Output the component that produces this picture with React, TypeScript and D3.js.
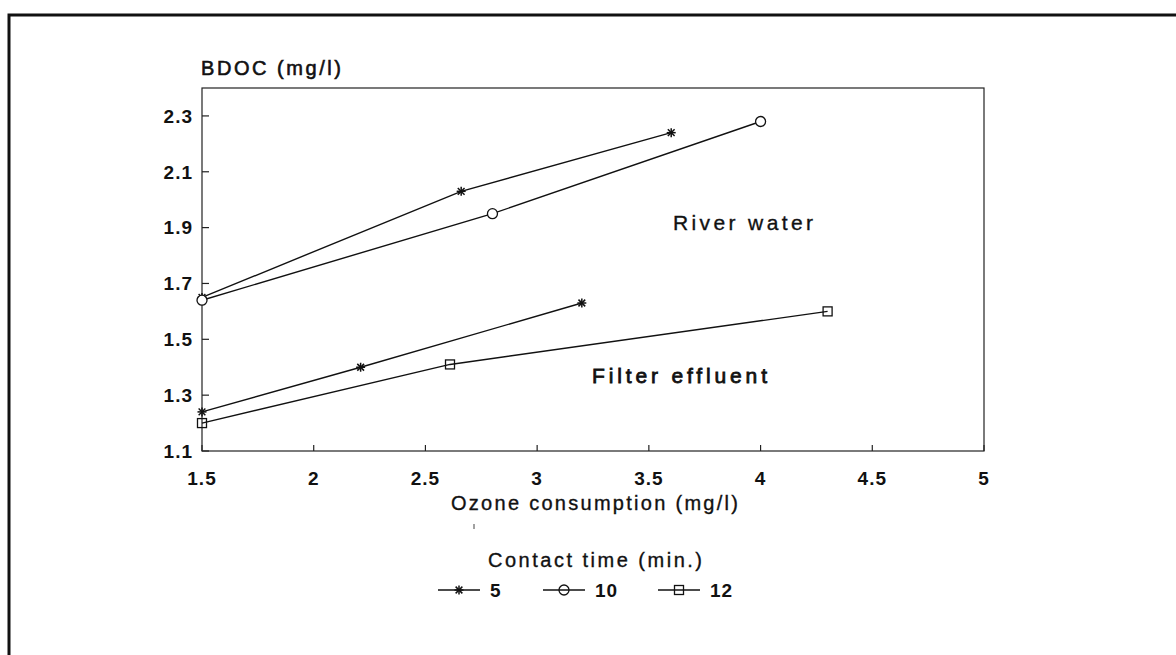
import React from "react";
import * as d3 from "d3";

const W = 1176;
const H = 655;

// Data
const river5X = [1.5, 2.66, 3.6];
const river5Y = [1.65, 2.03, 2.24];
const river10X = [1.5, 2.8, 4.0];
const river10Y = [1.64, 1.95, 2.28];
const filter5X = [1.5, 2.21, 3.2];
const filter5Y = [1.24, 1.4, 1.63];
const filter12X = [1.5, 2.61, 4.3];
const filter12Y = [1.2, 1.41, 1.6];

const xTicks = [1.5, 2, 2.5, 3, 3.5, 4, 4.5, 5];
const yTicks = [1.1, 1.3, 1.5, 1.7, 1.9, 2.1, 2.3];
const legendLabels = ["5", "10", "12"];
const legendMarkers = ["star", "circle", "square"];

const FONT = "'Liberation Sans', Arial, sans-serif";

const x = d3.scaleLinear().domain([1.5, 5]).range([202, 984]);
const y = d3.scaleLinear().domain([1.1, 2.4]).range([451, 88]);

function Marker({ type, cx, cy }: { type: string; cx: number; cy: number }) {
  if (type === "circle") {
    return <circle cx={cx} cy={cy} r={5} fill="white" stroke="#111" strokeWidth={1.3} />;
  }
  if (type === "square") {
    return <rect x={cx - 4.5} y={cy - 4.5} width={9} height={9} fill="none" stroke="#111" strokeWidth={1.3} />;
  }
  const s = 4.5;
  return (
    <g stroke="#111" strokeWidth={1.5}>
      <line x1={cx - s} y1={cy} x2={cx + s} y2={cy} />
      <line x1={cx} y1={cy - s} x2={cx} y2={cy + s} />
      <line x1={cx - s * 0.75} y1={cy - s * 0.75} x2={cx + s * 0.75} y2={cy + s * 0.75} />
      <line x1={cx - s * 0.75} y1={cy + s * 0.75} x2={cx + s * 0.75} y2={cy - s * 0.75} />
    </g>
  );
}

function Series({ xs, ys, marker }: { xs: number[]; ys: number[]; marker: string }) {
  const pts: [number, number][] = xs.map((v, i) => [x(v), y(ys[i])]);
  const line = d3.line()(pts) || "";
  return (
    <g>
      <path d={line} fill="none" stroke="#111" strokeWidth={1.4} />
      {pts.map((p, i) => (
        <Marker key={i} type={marker} cx={p[0]} cy={p[1]} />
      ))}
    </g>
  );
}

const textStyle = { fontFamily: FONT, fill: "#111", stroke: "#111", strokeWidth: 0.35 } as const;

export default function App() {
  const legendX = [438, 543, 658];
  const legendY = 590;
  return (
    <svg width={W} height={H} style={{ position: "absolute", left: 0, top: 0, background: "white" }}>
      <rect x={0} y={0} width={W} height={H} fill="white" />
      {/* outer frame */}
      <path d={`M9,${H} L9,15 L${W},15`} fill="none" stroke="#111" strokeWidth={3} />

      {/* plot box */}
      <rect x={x(1.5)} y={y(2.4)} width={x(5) - x(1.5)} height={y(1.1) - y(2.4)} fill="none" stroke="#222" strokeWidth={1.2} />

      {/* y ticks */}
      {yTicks.map((t) => (
        <g key={t}>
          <line x1={x(1.5)} x2={x(1.5) + 7} y1={y(t)} y2={y(t)} stroke="#222" strokeWidth={1.2} />
          <text x={193} y={y(t)} dy="0.36em" textAnchor="end" fontSize={19} fontWeight="bold" letterSpacing={1} {...textStyle} strokeWidth={0}>
            {t.toFixed(1)}
          </text>
        </g>
      ))}
      {/* x ticks */}
      {xTicks.map((t) => (
        <g key={t}>
          <line x1={x(t)} x2={x(t)} y1={y(1.1)} y2={y(1.1) - 6} stroke="#222" strokeWidth={1.2} />
          <text x={x(t)} y={478} dy="0.36em" textAnchor="middle" fontSize={19} fontWeight="bold" letterSpacing={1} {...textStyle} strokeWidth={0}>
            {String(t)}
          </text>
        </g>
      ))}

      <text x={201} y={68} dy="0.36em" fontSize={20} {...textStyle} strokeWidth={0.6} textLength={140} lengthAdjust="spacing">
        BDOC (mg/l)
      </text>
      <text x={451} y={503} dy="0.36em" fontSize={20} {...textStyle} textLength={287} lengthAdjust="spacing">
        Ozone consumption (mg/l)
      </text>
      <line x1={474} x2={474} y1={524} y2={529} stroke="#444" strokeWidth={1} />
      <text x={488} y={560} dy="0.36em" fontSize={20} {...textStyle} textLength={214} lengthAdjust="spacing">
        Contact time (min.)
      </text>

      <text x={673} y={222} dy="0.36em" fontSize={21} {...textStyle} textLength={140} lengthAdjust="spacing">
        River water
      </text>
      <text x={592} y={375} dy="0.36em" fontSize={21} {...textStyle} strokeWidth={0.8} textLength={175} lengthAdjust="spacing">
        Filter effluent
      </text>

      <Series xs={river5X} ys={river5Y} marker="star" />
      <Series xs={river10X} ys={river10Y} marker="circle" />
      <Series xs={filter5X} ys={filter5Y} marker="star" />
      <Series xs={filter12X} ys={filter12Y} marker="square" />

      {/* legend */}
      {legendLabels.map((lab, i) => (
        <g key={lab}>
          <line x1={legendX[i]} x2={legendX[i] + 42} y1={legendY} y2={legendY} stroke="#111" strokeWidth={1.4} />
          {legendMarkers[i] === "star" ? (
            <Marker type="star" cx={legendX[i] + 21} cy={legendY} />
          ) : legendMarkers[i] === "circle" ? (
            <circle cx={legendX[i] + 21} cy={legendY} r={5} fill="none" stroke="#111" strokeWidth={1.3} />
          ) : (
            <rect x={legendX[i] + 16.5} y={legendY - 4.5} width={9} height={9} fill="none" stroke="#111" strokeWidth={1.3} />
          )}
          <text x={legendX[i] + 52} y={legendY} dy="0.36em" fontSize={19} fontWeight="bold" letterSpacing={1} {...textStyle} strokeWidth={0}>
            {lab}
          </text>
        </g>
      ))}
    </svg>
  );
}
